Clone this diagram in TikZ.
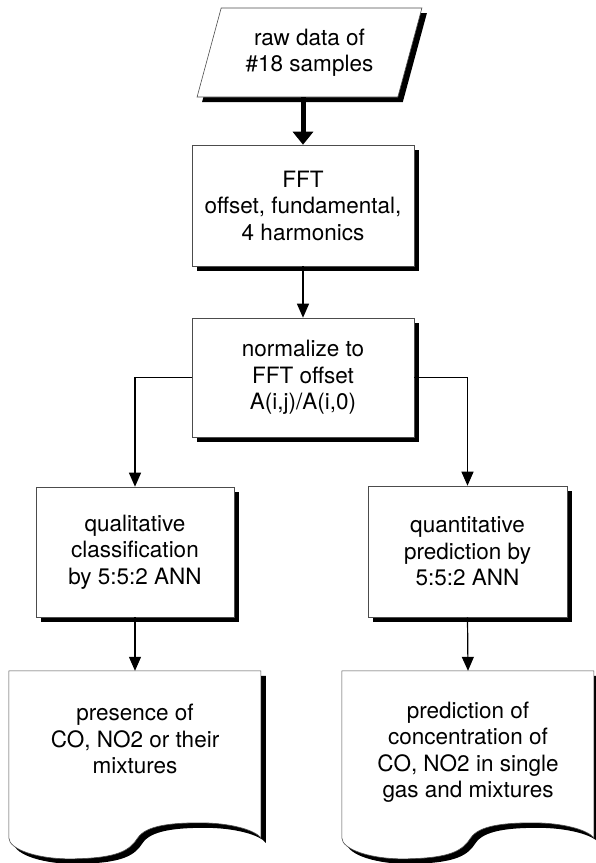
\documentclass[tikz,border=0pt]{standalone}
\usepackage{fontspec}
\setmainfont{TeX Gyre Heros}
\usetikzlibrary{shapes.geometric,shadows,arrows.meta}

\tikzset{
  boxshadow/.style={drop shadow={shadow xshift=5pt, shadow yshift=-5pt, fill=black, opacity=1}},
  flowbox/.style={rectangle, draw=black!70, line width=0.6pt, fill=white, inner sep=0pt,
    align=center, font=\fontsize{22.5}{26.5}\selectfont, boxshadow},
  docframe/.style={rectangle, inner sep=0pt, minimum width=252pt, minimum height=169pt},
  docline/.style={draw=black!70, line width=0.6pt, fill=white, boxshadow},
  doctext/.style={align=center, inner sep=0pt, font=\fontsize{22.5}{26.5}\selectfont},
  arrow/.style={line width=1.2pt, -{Triangle[width=12pt,length=14pt]}},
  bigarrow/.style={line width=5pt, -{Triangle[width=20pt,length=13pt]}}
}

\begin{document}
\begin{tikzpicture}[x=1pt, y=-1pt]
  \useasboundingbox (0,0) rectangle (595,863);

  % Input data
  \node[flowbox, trapezium, trapezium left angle=70, trapezium right angle=110,
    trapezium stretches=true, minimum width=225pt, minimum height=89pt]
    (raw) at (309.5,52.5) {raw data of\\\#18 samples};

  % Processing steps
  \node[flowbox, minimum width=222pt, minimum height=121pt] (fft) at (303,205.5)
    {FFT\\offset, fundamental,\\4 harmonics};
  \node[flowbox, minimum width=222pt, minimum height=119pt] (norm) at (303,377.5)
    {normalize to\\FFT offset\\A(i,j)/A(i,0)};
  \node[flowbox, minimum width=198pt, minimum height=130pt] (qual) at (135,552)
    {qualitative\\classification\\by 5:5:2 ANN};
  \node[flowbox, minimum width=199pt, minimum height=131pt] (quant) at (467.5,551.5)
    {quantitative\\prediction by\\5:5:2 ANN};

  % Output documents
  \node[docframe] (presdoc) at (135,755.5) {};
  \node[docframe] (preddoc) at (468,755.5) {};
  \foreach \d in {presdoc,preddoc} {
    \begin{scope}[shift={(\d.north west)}]
      \path[docline] (0,0) -- (0,167)
        .. controls (0,179) and (31,189) .. (66,188)
        .. controls (111,187) and (121,179) .. (129,167)
        .. controls (137,155) and (161,152) .. (191,152)
        .. controls (221,152) and (246,159) .. (252,167)
        -- (252,0) -- cycle;
    \end{scope}
  }
  \node[doctext] (pres) at (135,739) {presence of\\CO, NO2 or their\\mixtures};
  \node[doctext] (pred) at (468,752)
    {prediction of\\concentration of\\CO, NO2 in single\\gas and mixtures};

  % Arrows
  \draw[bigarrow] (raw.south -| fft.north) -- (fft.north);
  \draw[arrow] (fft.south) -- (norm.north);
  \draw[arrow] (norm.west) -| (qual.north);
  \draw[arrow] (norm.east) -| (quant.north);
  \draw[arrow] (qual.south) -- (presdoc.north);
  \draw[arrow] (quant.south) -- (preddoc.north);
\end{tikzpicture}
\end{document}
